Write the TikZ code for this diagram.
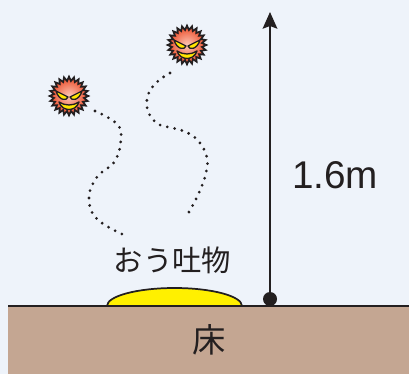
\documentclass[tikz,border=0pt]{standalone}
\usepackage{fontspec}
\setmainfont{Liberation Sans}
\newfontfamily\jpfont{Noto Sans CJK JP}
\usetikzlibrary{shapes.geometric,arrows.meta}

\definecolor{bgblue}{HTML}{EEF3FA}
\definecolor{floorbrown}{HTML}{C4A692}
\definecolor{vomit}{HTML}{FFF000}
\definecolor{ink}{HTML}{231F20}
\definecolor{germred}{HTML}{EC4A26}
\definecolor{germpink}{HTML}{FCC8B8}
\definecolor{eyeyellow}{HTML}{FFE600}

\begin{document}
\begin{tikzpicture}[x=0.75pt,y=-0.75pt]
\tikzstyle{germ}=[star,star points=24,star point ratio=1.28,minimum size=29pt,inner sep=0pt,draw=ink,line width=1.3pt,shading=radial,inner color=germpink,outer color=germred]
\tikzstyle{eye}=[fill=eyeyellow,draw=ink,line width=1pt,line join=round]
\tikzstyle{trail}=[ink,line width=2.3pt,line cap=round,dash pattern=on 0pt off 5.6pt]
\tikzstyle{label}=[text=ink,inner sep=0pt]
\fill[bgblue] (0,0) rectangle (409,374);
\useasboundingbox (0,0) rectangle (409,374);
% floor and the puddle on it
\fill[floorbrown] (8,306) rectangle (409,374);
\filldraw[fill=vomit,draw=ink,line width=1.3pt] (107,306) arc[start angle=180,end angle=360,x radius=67.5,y radius=18];
\draw[ink,line width=1.6pt] (8,306) -- (409,306);
\node [label,font=\jpfont\fontsize{25}{25}\selectfont] (floor) at (209.5,340) {床};
\node [label,font=\jpfont\fontsize{22}{22}\selectfont] (puddle) at (172.5,260.5) {おう吐物};
% height marker
\node [circle,fill=ink,minimum size=10.5pt,inner sep=0pt] (base) at (270,299) {};
\coordinate (top) at (270,12);
\draw[ink,line width=1.5pt,-{Stealth[length=12.5pt,width=11pt,inset=2pt]}] (base.center) -- (top);
\node [label,font=\fontsize{29}{29}\selectfont,anchor=base] (height) at (335,188) {1.6m};
% germs
\foreach \name/\cx/\cy in {v1/69/96,v2/187/45}{
  \node [germ] (\name) at (\cx,\cy) {};
  \begin{scope}[shift={(\cx,\cy)}]
    \filldraw[eye] (-13,-5) -- (-1,1) .. controls (-2,5) and (-10,5) .. cycle;
    \filldraw[eye] (13,-5) -- (1,1) .. controls (2,5) and (10,5) .. cycle;
    \filldraw[eye] (-10,6) .. controls (-4,10) and (4,10) .. (10,6) .. controls (7,16) and (-7,16) .. cycle;
  \end{scope}
}
% falling trails
\coordinate (t1s) at (95,111);
\coordinate (t1e) at (124,235);
\coordinate (t2s) at (170,73);
\coordinate (t2e) at (186,217);
\draw[trail] plot[smooth,tension=0.7] coordinates {(t1s) (116,123) (121,137) (115,161) (97,177) (89,198) (97,219) (t1e)};
\draw[trail] plot[smooth,tension=0.7] coordinates {(t2s) (157,82) (148,95) (148,111) (158,124) (173,128) (188,133) (200,143) (207,158) (206,173) (201,188) (194,203) (t2e)};
\end{tikzpicture}
\end{document}
